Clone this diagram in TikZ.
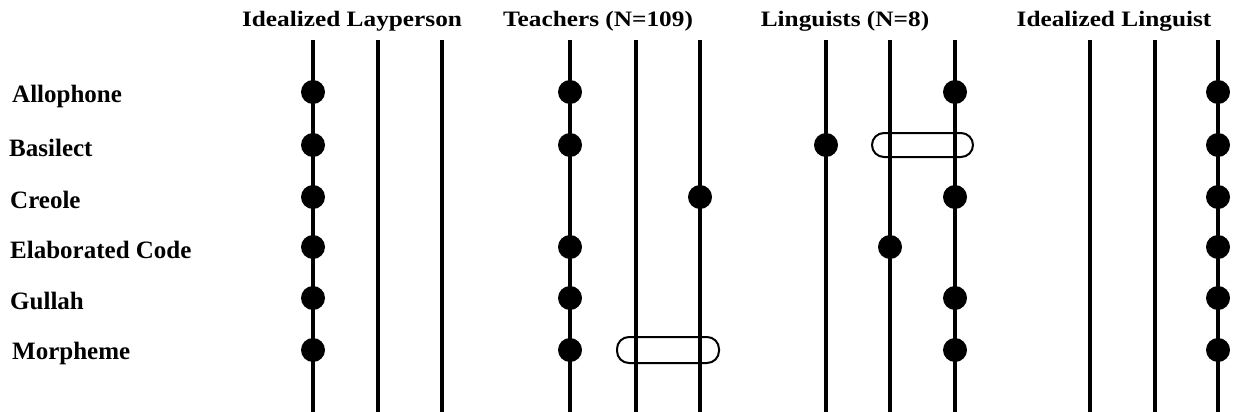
\documentclass[tikz,border=0pt]{standalone}
\usepackage{fontspec}
\setmainfont{Liberation Serif}
\newfontfamily\headfont[FakeStretch=1.15]{Liberation Serif}
\begin{document}
\begin{tikzpicture}[x=1pt,y=-1pt,
  axis/.style={line width=4.5pt},
  dot/.style={circle,fill=black,inner sep=0pt,minimum size=24pt},
  rowlabel/.style={anchor=west,inner sep=0pt,font=\fontsize{25}{27}\selectfont\bfseries},
  heading/.style={inner sep=0pt,font=\headfont\fontsize{22}{24}\selectfont\bfseries},
  capsule/.style={draw,line width=2pt,rounded corners=12pt}]
\useasboundingbox (0,0) rectangle (1234,412);

% group headings
\node[heading] (h1) at (352,21) {Idealized Layperson};
\node[heading] (h2) at (598,21) {Teachers (N=109)};
\node[heading] (h3) at (845,21) {Linguists (N=8)};
\node[heading] (h4) at (1114,21) {Idealized Linguist};

% row labels
\node[rowlabel] (l1) at (12,96) {Allophone};
\node[rowlabel] (l2) at (9,148) {Basilect};
\node[rowlabel] (l3) at (10,200) {Creole};
\node[rowlabel] (l4) at (10,250) {Elaborated Code};
\node[rowlabel] (l5) at (10,301) {Gullah};
\node[rowlabel] (l6) at (12,353) {Morpheme};

% vertical axes, three per group
\foreach \n/\x in {a1/313,a2/378,a3/442,b1/570,b2/636,b3/700,c1/826,c2/890,c3/955,d1/1090,d2/1155,d3/1218}{
  \coordinate (\n t) at (\x,40);
  \coordinate (\n b) at (\x,412);
}

% capsules spanning two axes
\draw[capsule] (b2t |- 0,337) ++(-19,0) coordinate (capT) rectangle ++(102,26) coordinate (capT2);
\draw[capsule] (c2t |- 0,133) ++(-18,0) coordinate (capL) rectangle ++(101,24) coordinate (capL2);

\foreach \n in {a1,a2,a3,b1,b2,b3,c1,c2,c3,d1,d2,d3}
  \draw[axis] (\n t) -- (\n b);

% row positions
\def\rA{92}\def\rB{145}\def\rC{197}\def\rD{247}\def\rE{298}\def\rF{350}

% idealized layperson
\foreach \r [count=\i] in {\rA,\rB,\rC,\rD,\rE,\rF}
  \node[dot] (pa\i) at (313,\r) {};
% teachers
\node[dot] (pb1) at (570,\rA) {};
\node[dot] (pb2) at (570,\rB) {};
\node[dot] (pb3) at (700,\rC) {};
\node[dot] (pb4) at (570,\rD) {};
\node[dot] (pb5) at (570,\rE) {};
\node[dot] (pb6) at (570,\rF) {};
% linguists
\node[dot] (pc1) at (955,\rA) {};
\node[dot] (pc2) at (826,\rB) {};
\node[dot] (pc3) at (955,\rC) {};
\node[dot] (pc4) at (890,\rD) {};
\node[dot] (pc5) at (955,\rE) {};
\node[dot] (pc6) at (955,\rF) {};
% idealized linguist
\foreach \r [count=\i] in {\rA,\rB,\rC,\rD,\rE,\rF}
  \node[dot] (pd\i) at (1218,\r) {};
\end{tikzpicture}
\end{document}
